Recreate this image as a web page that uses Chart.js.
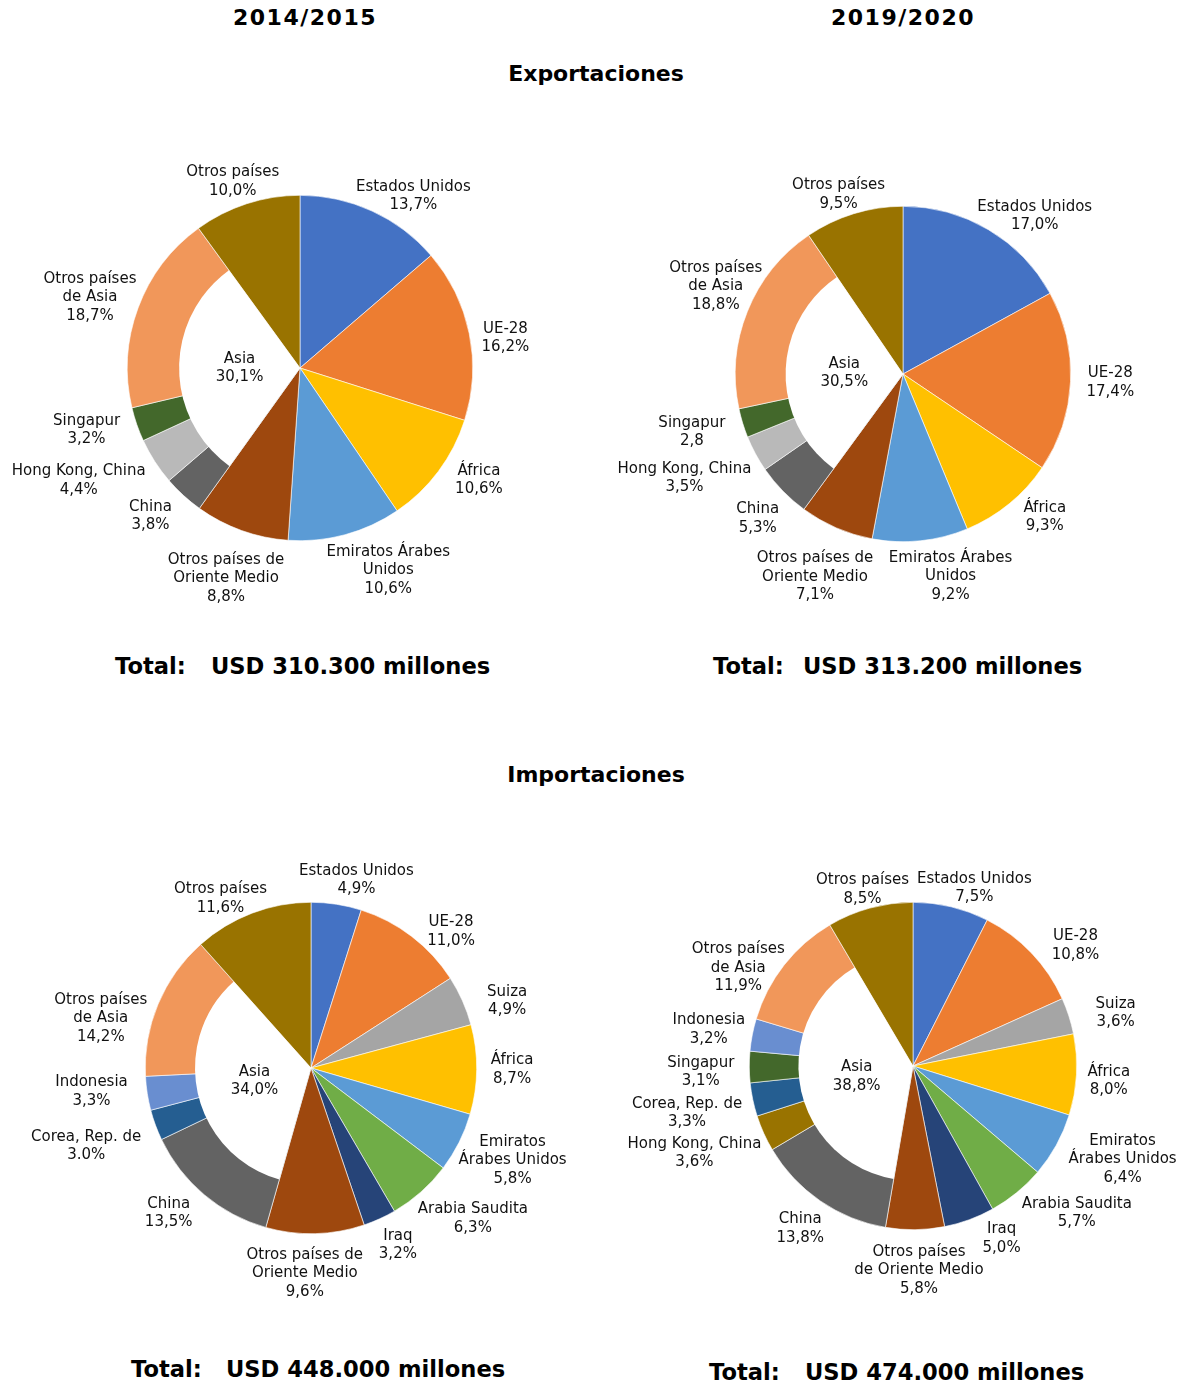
<!DOCTYPE html>
<html>
<head>
<meta charset="utf-8">
<script src="https://cdn.jsdelivr.net/npm/chart.js@4.4.1/dist/chart.umd.min.js"></script>
<style>
body { margin: 0; background: #fff; font-family: "DejaVu Sans", Verdana, sans-serif; }
#page { position: relative; width: 1186px; height: 1387px; overflow: hidden; }
.t { position: absolute; font-weight: bold; color: #000; white-space: nowrap; line-height: 26px; font-size: 22px; }
.tot { font-size: 22.6px; }
.box { position: absolute; }
</style>
</head>
<body>
<div id="page">
  <div class="t" style="left:0;width:610px;text-align:center;top:5px;letter-spacing:1.5px">2014/2015</div>
  <div class="t" style="left:598px;width:610px;text-align:center;top:5px;letter-spacing:1.5px">2019/2020</div>
  <div class="t" style="left:0;width:1192px;text-align:center;top:61px">Exportaciones</div>
  <div class="t" style="left:0;width:1192px;text-align:center;top:762px">Importaciones</div>

  <div class="t tot" style="left:115px;top:653px">Total:</div>
  <div class="t tot" style="left:211px;top:653px">USD 310.300 millones</div>
  <div class="t tot" style="left:713px;top:653px">Total:</div>
  <div class="t tot" style="left:803px;top:653px">USD 313.200 millones</div>
  <div class="t tot" style="left:131px;top:1356px">Total:</div>
  <div class="t tot" style="left:226px;top:1356px">USD 448.000 millones</div>
  <div class="t tot" style="left:709px;top:1359px">Total:</div>
  <div class="t tot" style="left:805px;top:1359px">USD 474.000 millones</div>
</div>

<script>
// datos: exportaciones
const expCats = ['Estados Unidos', 'UE-28', 'África', 'Emiratos Árabes Unidos', 'Otros países de Oriente Medio',
                 'China', 'Hong Kong, China', 'Singapur', 'Otros países de Asia', 'Otros países'];
const expVals1415 = [13.7, 16.2, 10.6, 10.6, 8.8, 3.8, 4.4, 3.2, 18.7, 10.0];
const expVals1920 = [17.0, 17.4, 9.3, 9.2, 7.1, 5.3, 3.5, 2.8, 18.8, 9.5];
const expLabels = ['Estados Unidos', 'UE-28', 'África', 'Emiratos Árabes\nUnidos', 'Otros países de\nOriente Medio',
                   'China', 'Hong Kong, China', 'Singapur', 'Otros países\nde Asia', 'Otros países'];

// datos: importaciones
const impCats1415 = ['Estados Unidos', 'UE-28', 'Suiza', 'África', 'Emiratos Árabes Unidos', 'Arabia Saudita', 'Iraq',
                     'Otros países de Oriente Medio', 'China', 'Corea, Rep. de', 'Indonesia', 'Otros países de Asia', 'Otros países'];
const impVals1415 = [4.9, 11.0, 4.9, 8.7, 5.8, 6.3, 3.2, 9.6, 13.5, 3.0, 3.3, 14.2, 11.6];
const impLabels1415 = ['Estados Unidos', 'UE-28', 'Suiza', 'África', 'Emiratos\nÁrabes Unidos', 'Arabia Saudita', 'Iraq',
                       'Otros países de\nOriente Medio', 'China', 'Corea, Rep. de', 'Indonesia', 'Otros países\nde Asia', 'Otros países'];

const impCats1920 = ['Estados Unidos', 'UE-28', 'Suiza', 'África', 'Emiratos Árabes Unidos', 'Arabia Saudita', 'Iraq',
                     'Otros países de Oriente Medio', 'China', 'Hong Kong, China', 'Corea, Rep. de', 'Singapur', 'Indonesia',
                     'Otros países de Asia', 'Otros países'];
const impVals1920 = [7.5, 10.8, 3.6, 8.0, 6.4, 5.7, 5.0, 5.8, 13.8, 3.6, 3.3, 3.1, 3.2, 11.9, 8.5];
const impLabels1920 = ['Estados Unidos', 'UE-28', 'Suiza', 'África', 'Emiratos\nÁrabes Unidos', 'Arabia Saudita', 'Iraq',
                       'Otros países\nde Oriente Medio', 'China', 'Hong Kong, China', 'Corea, Rep. de', 'Singapur', 'Indonesia',
                       'Otros países\nde Asia', 'Otros países'];

// categorías que forman el anillo "Asia"
const asiaCats = ['China', 'Hong Kong, China', 'Singapur', 'Corea, Rep. de', 'Indonesia', 'Otros países de Asia'];
const asiaTotals = [30.1, 30.5, 34.0, 38.8];

// colores
const expColors1415 = ['#4472C4', '#ED7D31', '#FFC000', '#5B9BD5', '#9E480E', '#636363', '#B9B9B9', '#43682B', '#F1975A', '#997300'];
const expColors1920 = expColors1415;
const impColors1415 = ['#4472C4', '#ED7D31', '#A5A5A5', '#FFC000', '#5B9BD5', '#70AD47', '#264478', '#9E480E',
                       '#636363', '#255E91', '#698ED0', '#F1975A', '#997300'];
const impColors1920 = ['#4472C4', '#ED7D31', '#A5A5A5', '#FFC000', '#5B9BD5', '#70AD47', '#264478', '#9E480E',
                       '#636363', '#997300', '#255E91', '#43682B', '#698ED0', '#F1975A', '#997300'];

function fmt(v) {
    return v.toFixed(1).replace('.', ',') + '%';
}

// dibuja el hueco blanco de Asia y las etiquetas
function makeLabelPlugin(spec) {
    return {
        id: 'pieLabels',
        afterDatasetsDraw(chart) {
            const ctx = chart.ctx;
            const arcs = chart.getDatasetMeta(0).data;
            const x = arcs[0].x, y = arcs[0].y, R = arcs[0].outerRadius;
            const inner = R * 0.7;

            let a0 = null, a1 = null;
            spec.cats.forEach((c, i) => {
                if (asiaCats.includes(c)) {
                    a0 = a0 === null ? arcs[i].startAngle : Math.min(a0, arcs[i].startAngle);
                    a1 = a1 === null ? arcs[i].endAngle : Math.max(a1, arcs[i].endAngle);
                }
            });

            ctx.save();
            ctx.fillStyle = '#fff';
            ctx.beginPath();
            ctx.moveTo(x, y);
            ctx.arc(x, y, inner, a0, a1);
            ctx.closePath();
            ctx.fill();

            ctx.font = '15px "DejaVu Sans", Verdana, sans-serif';
            ctx.fillStyle = '#111';
            ctx.textAlign = 'center';
            ctx.textBaseline = 'middle';
            const lh = 18.5;

            // etiqueta central
            const am = (a0 + a1) / 2;
            const ax = x + Math.cos(am) * inner * 0.5;
            const ay = y + Math.sin(am) * inner * 0.5;
            ctx.fillText('Asia', ax, ay - lh / 2);
            ctx.fillText(fmt(spec.asia), ax, ay + lh / 2);

            // etiquetas de cada sector
            arcs.forEach((arc, i) => {
                const mid = (arc.startAngle + arc.endAngle) / 2;
                const ux = Math.cos(mid), uy = Math.sin(mid);
                const val = spec.valueText[i] !== undefined ? spec.valueText[i] : fmt(spec.vals[i]);
                const lines = spec.labels[i].split('\n').concat([val]);
                const w = Math.max(...lines.map(l => ctx.measureText(l).width));
                const h = lines.length * lh;
                const nudge = spec.nudge[i] || [0, 0];
                const px = x + ux * (R + 8);
                const py = y + uy * (R + 8);
                const bx = px + ux * w / 2 + nudge[0];
                const by = py + uy * h / 2 + nudge[1];
                lines.forEach((l, k) => {
                    ctx.fillText(l, bx, by - h / 2 + lh * (k + 0.5));
                });
            });
            ctx.restore();
        }
    };
}

function drawPie(spec) {
    const page = document.getElementById('page');
    const box = document.createElement('div');
    box.className = 'box';
    box.style.left = spec.box[0] + 'px';
    box.style.top = spec.box[1] + 'px';
    const canvas = document.createElement('canvas');
    canvas.width = spec.box[2];
    canvas.height = spec.box[3];
    box.appendChild(canvas);
    page.appendChild(box);

    const [cx, cy, r] = spec.pie;
    const padding = {
        left: cx - r - spec.box[0],
        right: spec.box[0] + spec.box[2] - (cx + r),
        top: cy - r - spec.box[1],
        bottom: spec.box[1] + spec.box[3] - (cy + r)
    };

    new Chart(canvas.getContext('2d'), {
        type: 'pie',
        data: {
            labels: spec.cats,
            datasets: [{
                data: spec.vals,
                backgroundColor: spec.colors,
                borderColor: '#ffffff',
                borderWidth: 0.6
            }]
        },
        options: {
            responsive: false,
            animation: false,
            layout: { padding: padding },
            plugins: {
                legend: { display: false },
                tooltip: { enabled: false }
            }
        },
        plugins: [makeLabelPlugin(spec)]
    });
}

drawPie({
    cats: expCats, vals: expVals1415, labels: expLabels, colors: expColors1415, asia: asiaTotals[0],
    valueText: {}, box: [0, 100, 593, 540], pie: [300, 368, 173],
    nudge: [[14, 9], [5, 10], [15, -7], [25, 1], [7, 14], [-13, 1], [-13, 5], [-11, -3], [3, 2], [3, 3]]
});
drawPie({
    cats: expCats, vals: expVals1920, labels: expLabels, colors: expColors1920, asia: asiaTotals[1],
    valueText: { 7: '2,8' }, box: [593, 100, 593, 540], pie: [903, 374, 168],
    nudge: [[13, 9], [8, 0], [17, -7], [23, 0], [5, 16], [-4, 9], [-5, 12], [-11, 1], [19, -12], [1, 6]]
});
drawPie({
    cats: impCats1415, vals: impVals1415, labels: impLabels1415, colors: impColors1415, asia: asiaTotals[2],
    valueText: { 9: '3.0%' }, box: [0, 800, 593, 560], pie: [311, 1068, 166],
    nudge: [[10, 2], [20, 16], [19, 11], [6, 0], [-2, 2], [10, 7], [7, 2], [-12, 4], [-15, -2],
            [-10, 12], [-12, -6], [-7, 28], [-12, 10]]
});
drawPie({
    cats: impCats1920, vals: impVals1920, labels: impLabels1920, colors: impColors1920, asia: asiaTotals[3],
    valueText: {}, box: [593, 800, 593, 560], pie: [913, 1066, 164],
    nudge: [[8, 7], [21, 11], [20, 5], [3, 5], [12, -3], [20, 0], [23, -6], [3, 5], [-2, 6],
            [-1, 9], [-4, 8], [-7, 5], [0, 0], [-3, 25], [7, 7]]
});
</script>
</body>
</html>
